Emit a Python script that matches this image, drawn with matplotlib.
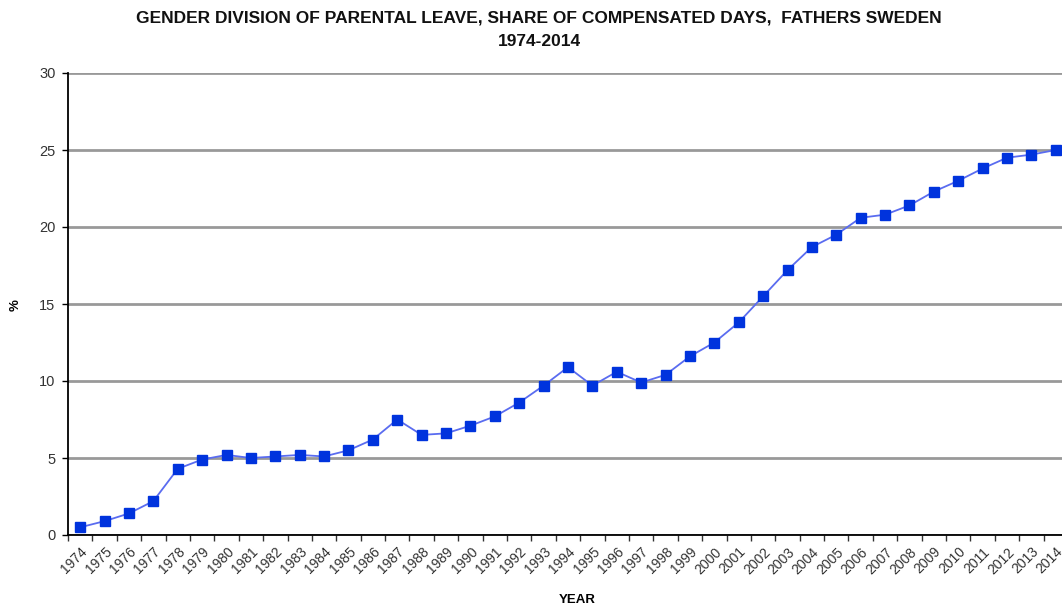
import numpy as np
import matplotlib
matplotlib.use('Agg')
import matplotlib.pyplot as plt
from matplotlib.ticker import FixedLocator

years = list(range(1974, 2015))
share = [0.5, 0.9, 1.4, 2.2, 4.3, 4.9, 5.2, 5.0, 5.1, 5.2,
         5.1, 5.5, 6.2, 7.5, 6.5, 6.6, 7.1, 7.7, 8.6, 9.7,
         10.9, 9.7, 10.6, 9.9, 10.4, 11.6, 12.5, 13.8, 15.5, 17.2,
         18.7, 19.5, 20.6, 20.8, 21.4, 22.3, 23.0, 23.8, 24.5, 24.7,
         25.0]
y_ticks = [0, 5, 10, 15, 20, 25, 30]

plt.rcParams['font.family'] = ['Liberation Sans', 'DejaVu Sans']

fig = plt.figure(figsize=(10.62, 6.07), dpi=100)
W, H = 1062, 607
ax = fig.add_axes([68 / W, (H - 535) / H, (W - 68) / W, (535 - 73) / H])

x = np.arange(len(years))
ax.plot(x, share, color='#5a6cf0', linewidth=1.3, marker='s', markersize=6.5,
        markerfacecolor='#0033dd', markeredgecolor='#0033dd', zorder=3, clip_on=False)

ax.set_ylim(0, 30)
ax.set_xlim(-0.5, len(years) - 0.5 - 6 / 24.4)
ax.set_yticks(y_ticks)
ax.yaxis.grid(True, color='#999999', linewidth=2)
ax.set_axisbelow(True)

ax.set_xticks(x)
ax.set_xticklabels([str(y) for y in years], rotation=45, ha='right',
                   rotation_mode='anchor', fontsize=10, color='#333333')
ax.tick_params(axis='x', which='major', length=0, pad=7)
ax.xaxis.set_minor_locator(FixedLocator(np.arange(-0.5, len(years), 1.0)))
ax.tick_params(axis='x', which='minor', length=4, width=1, color='#333333')
ax.tick_params(axis='y', length=4, width=1, labelsize=10.5, labelcolor='#333333', pad=5)

for s in ['top', 'right']:
    ax.spines[s].set_visible(False)
ax.spines['left'].set_linewidth(1.3)
ax.spines['bottom'].set_linewidth(1.3)

fig.text(539 / W, 1 - 18 / H, 'GENDER DIVISION OF PARENTAL LEAVE, SHARE OF COMPENSATED DAYS,  FATHERS SWEDEN',
         ha='center', va='center', fontsize=12.5, fontweight='bold', color='#111111')
fig.text(539 / W, 1 - 41 / H, '1974-2014', ha='center', va='center', fontsize=12.5,
         fontweight='bold', color='#111111')
fig.text(577 / W, 1 - 600 / H, 'YEAR', ha='center', va='center', fontsize=9.5, fontweight='bold')
fig.text(16 / W, 1 - 305 / H, '%', ha='center', va='center', fontsize=9.5,
         fontweight='bold', rotation=90)

fig.savefig('out.png', dpi=100)
